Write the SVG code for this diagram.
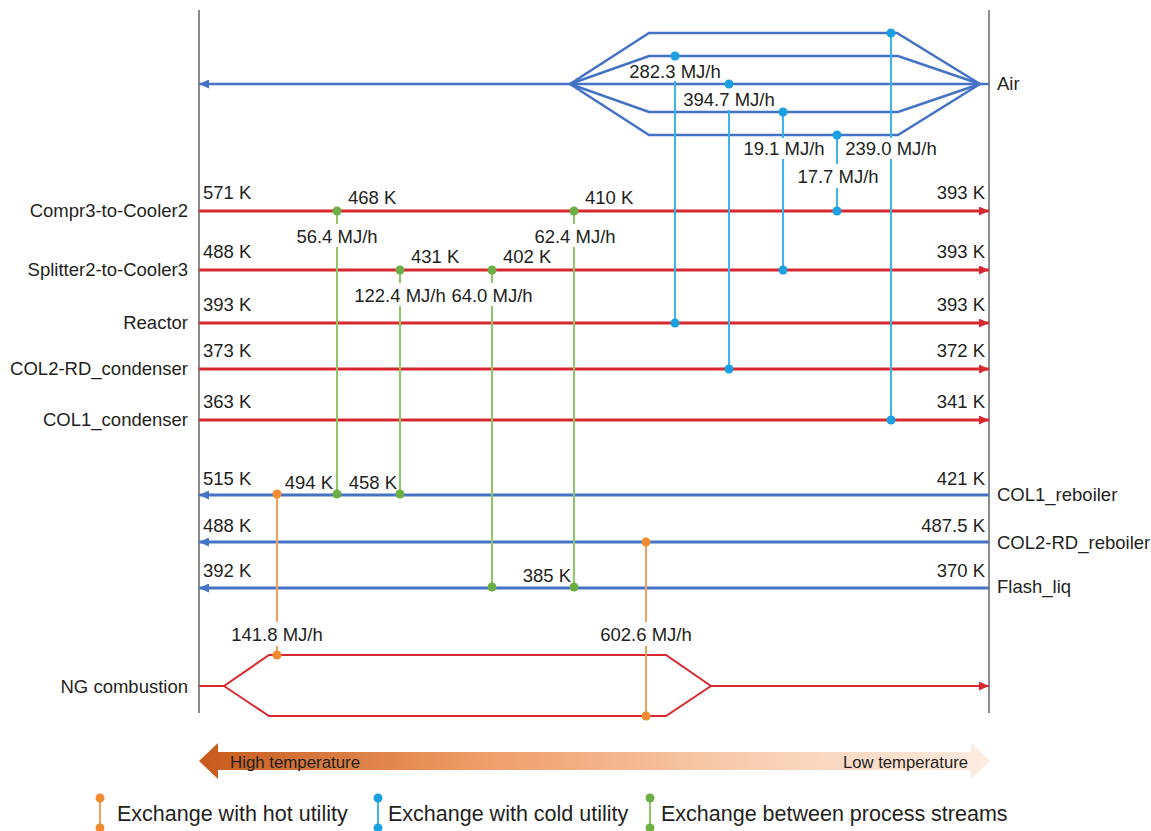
<svg xmlns="http://www.w3.org/2000/svg" width="1151" height="831" viewBox="0 0 1151 831">
<defs>
<style>
.t{font-family:"Liberation Sans",Arial,sans-serif;font-size:18.5px;fill:#231f20}
.e{text-anchor:end}
.m{text-anchor:middle}
.hot{stroke:#d7282f;stroke-width:3;fill:none}
.cold{stroke:#4472c4;stroke-width:3;fill:none}
.air{stroke:#4472c4;stroke-width:2.5;fill:none;stroke-linejoin:miter}
.ng{stroke:#d7282f;stroke-width:2;fill:none}
.bd{stroke:#666;stroke-width:1.5}
.cu{stroke:#3db5ec;stroke-width:2}
.cud{fill:#1ba1e2}
.pp{stroke:#8cc865;stroke-width:2}
.ppd{fill:#6dae45}
.hu{stroke:#f5a05a;stroke-width:2}
.hud{fill:#f28a30}
.lg{font-family:"Liberation Sans",Arial,sans-serif;font-size:21.5px;fill:#231f20}
.gt{font-family:"Liberation Sans",Arial,sans-serif;font-size:17px;fill:#231f20}
</style>
<marker id="arrR" markerUnits="userSpaceOnUse" markerWidth="10" markerHeight="9" refX="10" refY="4.5" orient="auto"><path d="M0,0 L10,4.5 L0,9 z" fill="#d7282f"/></marker>
<marker id="arrB" markerUnits="userSpaceOnUse" markerWidth="10" markerHeight="9" refX="10" refY="4.5" orient="auto"><path d="M0,0 L10,4.5 L0,9 z" fill="#4472c4"/></marker>
<linearGradient id="grad" x1="0" y1="0" x2="1" y2="0">
<stop offset="0" stop-color="#c65a1a"/>
<stop offset="0.35" stop-color="#ee9c66"/>
<stop offset="0.7" stop-color="#f8cfb3"/>
<stop offset="1" stop-color="#fdece1"/>
</linearGradient>
</defs>
<rect width="1151" height="831" fill="#fff"/>

<g id="boundaries">
<line class="bd" x1="199" y1="10" x2="199" y2="713"/>
<line class="bd" x1="989" y1="10" x2="989" y2="713"/>
</g>

<g id="air">
<line class="air" x1="989" y1="84" x2="199" y2="84" marker-end="url(#arrB)"/>
<polyline class="air" points="570,84 649,33 897,33 980,84"/>
<polyline class="air" points="570,84 649,56 898,56 980,84"/>
<polyline class="air" points="570,84 649,112 898,112 980,84"/>
<polyline class="air" points="570,84 649,135 898,135 980,84"/>
<text class="t" x="997" y="90">Air</text>
</g>

<g id="compr3-to-cooler2">
<line class="hot" x1="199" y1="211" x2="989" y2="211" marker-end="url(#arrR)"/>
<text class="t e" x="188" y="217">Compr3-to-Cooler2</text>
<text class="t" x="203" y="198.5">571 K</text>
<text class="t e" x="985" y="198.5">393 K</text>
<text class="t" x="348" y="204">468 K</text>
<text class="t" x="585" y="204">410 K</text>
</g>

<g id="splitter2-to-cooler3">
<line class="hot" x1="199" y1="270" x2="989" y2="270" marker-end="url(#arrR)"/>
<text class="t e" x="188" y="276">Splitter2-to-Cooler3</text>
<text class="t" x="203" y="257.5">488 K</text>
<text class="t e" x="985" y="257.5">393 K</text>
<text class="t" x="411" y="263">431 K</text>
<text class="t" x="503" y="263">402 K</text>
</g>

<g id="reactor">
<line class="hot" x1="199" y1="323" x2="989" y2="323" marker-end="url(#arrR)"/>
<text class="t e" x="188" y="329">Reactor</text>
<text class="t" x="203" y="310.5">393 K</text>
<text class="t e" x="985" y="310.5">393 K</text>
</g>

<g id="col2-rd-condenser">
<line class="hot" x1="199" y1="369" x2="989" y2="369" marker-end="url(#arrR)"/>
<text class="t e" x="188" y="375">COL2-RD_condenser</text>
<text class="t" x="203" y="357">373 K</text>
<text class="t e" x="985" y="357">372 K</text>
</g>

<g id="col1-condenser">
<line class="hot" x1="199" y1="420" x2="989" y2="420" marker-end="url(#arrR)"/>
<text class="t e" x="188" y="426">COL1_condenser</text>
<text class="t" x="203" y="407.5">363 K</text>
<text class="t e" x="985" y="407.5">341 K</text>
</g>

<g id="col1-reboiler">
<line class="cold" x1="989" y1="495" x2="199" y2="495" marker-end="url(#arrB)"/>
<text class="t" x="997" y="501">COL1_reboiler</text>
<text class="t" x="203" y="485">515 K</text>
<text class="t e" x="985" y="485">421 K</text>
<text class="t e" x="333" y="489">494 K</text>
<text class="t e" x="397" y="489">458 K</text>
</g>

<g id="col2-rd-reboiler">
<line class="cold" x1="989" y1="542" x2="199" y2="542" marker-end="url(#arrB)"/>
<text class="t" x="997" y="549">COL2-RD_reboiler</text>
<text class="t" x="203" y="532">488 K</text>
<text class="t e" x="985" y="532">487.5 K</text>
</g>

<g id="flash-liq">
<line class="cold" x1="989" y1="588" x2="199" y2="588" marker-end="url(#arrB)"/>
<text class="t" x="997" y="593">Flash_liq</text>
<text class="t" x="203" y="577">392 K</text>
<text class="t e" x="985" y="577">370 K</text>
<text class="t e" x="571" y="582">385 K</text>
</g>

<g id="ng-combustion">
<polyline class="ng" points="199,686 224,686"/>
<polyline class="ng" points="224,686 269,655 666,655 711,686"/>
<polyline class="ng" points="224,686 269,716 666,716 711,686"/>
<line class="ng" x1="711" y1="686" x2="989" y2="686" marker-end="url(#arrR)"/>
<text class="t e" x="188" y="693">NG combustion</text>
</g>

<g id="connectors">
<line class="cu" x1="675" y1="81" x2="675" y2="323"/>
<line class="cu" x1="729" y1="110" x2="729" y2="369"/>
<line class="cu" x1="783" y1="112" x2="783" y2="138"/>
<line class="cu" x1="783" y1="159" x2="783" y2="270"/>
<line class="cu" x1="837" y1="135" x2="837" y2="164"/>
<line class="cu" x1="837" y1="188" x2="837" y2="211"/>
<line class="cu" x1="891" y1="33" x2="891" y2="138"/>
<line class="cu" x1="891" y1="159" x2="891" y2="420"/>
<g class="cud">
<circle cx="675" cy="56" r="4.5"/><circle cx="675" cy="323" r="4.5"/>
<circle cx="729" cy="84" r="4.5"/><circle cx="729" cy="369" r="4.5"/>
<circle cx="783" cy="112" r="4.5"/><circle cx="783" cy="270" r="4.5"/>
<circle cx="837" cy="135" r="4.5"/><circle cx="837" cy="211" r="4.5"/>
<circle cx="891" cy="33" r="4.5"/><circle cx="891" cy="420" r="4.5"/>
</g>
<text class="t m" x="675" y="77.5">282.3 MJ/h</text>
<text class="t m" x="729" y="106">394.7 MJ/h</text>
<text class="t m" x="784" y="154.5">19.1 MJ/h</text>
<text class="t m" x="838" y="182.5">17.7 MJ/h</text>
<text class="t m" x="891" y="154.5">239.0 MJ/h</text>
<line class="pp" x1="337" y1="211" x2="337" y2="224"/>
<line class="pp" x1="337" y1="247" x2="337" y2="494"/>
<line class="pp" x1="574" y1="211" x2="574" y2="224"/>
<line class="pp" x1="574" y1="247" x2="574" y2="587"/>
<line class="pp" x1="400" y1="270" x2="400" y2="283"/>
<line class="pp" x1="400" y1="306" x2="400" y2="494"/>
<line class="pp" x1="492" y1="270" x2="492" y2="283"/>
<line class="pp" x1="492" y1="306" x2="492" y2="587"/>
<g class="ppd">
<circle cx="337" cy="211" r="4.5"/><circle cx="337" cy="494" r="4.5"/>
<circle cx="574" cy="211" r="4.5"/><circle cx="574" cy="587" r="4.5"/>
<circle cx="400" cy="270" r="4.5"/><circle cx="400" cy="494" r="4.5"/>
<circle cx="492" cy="270" r="4.5"/><circle cx="492" cy="587" r="4.5"/>
</g>
<text class="t m" x="337" y="242.5">56.4 MJ/h</text>
<text class="t m" x="575" y="242.5">62.4 MJ/h</text>
<text class="t m" x="400" y="301.5">122.4 MJ/h</text>
<text class="t m" x="492" y="301.5">64.0 MJ/h</text>
<line class="hu" x1="277" y1="494" x2="277" y2="622"/>
<line class="hu" x1="277" y1="646" x2="277" y2="655"/>
<line class="hu" x1="646" y1="542" x2="646" y2="622"/>
<line class="hu" x1="646" y1="646" x2="646" y2="716"/>
<g class="hud">
<circle cx="277" cy="494" r="4.5"/><circle cx="277" cy="655" r="4.5"/>
<circle cx="646" cy="542" r="4.5"/><circle cx="646" cy="716" r="4.5"/>
</g>
<text class="t m" x="277" y="640.5">141.8 MJ/h</text>
<text class="t m" x="646" y="640.5">602.6 MJ/h</text>
</g>

<g id="temperature-arrow">
<polygon points="199,761 218,743 218,752 971,752 971,743 990,761 971,779 971,770 218,770 218,779" fill="url(#grad)"/>
<text class="gt" x="230" y="768" textLength="130" lengthAdjust="spacingAndGlyphs">High temperature</text>
<text class="gt" x="843" y="768" textLength="125" lengthAdjust="spacingAndGlyphs">Low temperature</text>
</g>

<g id="legend">
<line class="hu" x1="100" y1="798" x2="100" y2="828"/>
<circle class="hud" cx="100" cy="798" r="4.5"/><circle class="hud" cx="100" cy="828" r="4.5"/>
<text class="lg" x="117" y="821">Exchange with hot utility</text>
<line class="cu" x1="378" y1="798" x2="378" y2="828"/>
<circle class="cud" cx="378" cy="798" r="4.5"/><circle class="cud" cx="378" cy="828" r="4.5"/>
<text class="lg" x="388" y="821">Exchange with cold utility</text>
<line class="pp" x1="650" y1="798" x2="650" y2="828"/>
<circle class="ppd" cx="650" cy="798" r="4.5"/><circle class="ppd" cx="650" cy="828" r="4.5"/>
<text class="lg" x="661" y="821">Exchange between process streams</text>
</g>
</svg>
